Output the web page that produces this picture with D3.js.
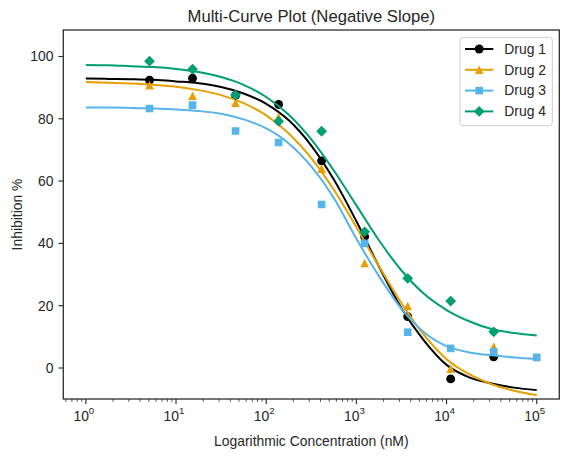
<!DOCTYPE html>
<html>
<head>
<meta charset="utf-8">
<script src="https://cdn.jsdelivr.net/npm/d3@7"></script>
<style>
  body { margin: 0; background: #fff; }
  svg { font-family: Arial, "Liberation Sans", sans-serif; }
</style>
</head>
<body>
<div id="chart"></div>
<script>
// Data
const drugs = ["Drug 1", "Drug 2", "Drug 3", "Drug 4"];
const colors = ["#000000", "#E69F00", "#56B4E9", "#009E73"];
const markers = ["circle", "triangle", "square", "diamond"];

// measured concentrations (nM), 3-fold dilutions
const conc = [5.08, 15.24, 45.7, 137.2, 411.5, 1234.6, 3703.7, 11111, 33333, 100000];

const points1 = [92.4, 93.0, 87.5, 84.6, 66.5, 42.2, 16.5, -3.5, 3.6];
const points2 = [90.8, 87.4, 85.2, 80.5, 64.0, 33.7, 19.9, -0.2, 6.8];
const points3 = [83.3, 84.4, 76.1, 72.4, 52.5, 40.0, 11.5, 6.3, 5.2, 3.4];
const points4 = [98.5, 95.9, 87.6, 79.2, 76.0, 43.7, 28.8, 21.5, 11.6];

// fitted curves, read at quarter decades
const curveConc = [1, 1.78, 3.16, 5.62, 10, 17.8, 31.6, 56.2, 100, 178, 316, 562,
  1000, 1778, 3162, 5623, 10000, 17783, 31623, 56234, 100000];
const curve1 = [92.9, 92.8, 92.7, 92.5, 92.0, 91.4, 90.2, 88.1, 84.8, 79.5, 71.4, 60.5,
  47.1, 32.6, 19.2, 8.8, 1.0, -3.0, -5.0, -6.3, -7.1];
const curve2 = [91.8, 91.6, 91.3, 90.9, 90.3, 89.2, 87.6, 85.0, 81.1, 75.3, 67.4, 57.2,
  45.2, 32.7, 20.8, 10.6, 2.8, -2.0, -5.2, -7.3, -8.7];
const curve3 = [83.6, 83.6, 83.5, 83.3, 83.0, 82.5, 81.6, 79.8, 76.9, 72.1, 64.7, 54.6,
  41.5, 29.5, 19.0, 11.5, 7.0, 5.0, 4.1, 3.4, 2.9];
const curve4 = [97.3, 97.2, 96.9, 96.6, 96.0, 95.0, 93.4, 90.9, 87.0, 81.3, 73.4, 63.4,
  52.2, 41.0, 31.3, 23.8, 18.6, 15.0, 12.5, 11.2, 10.4];

const yTicks = [0, 20, 40, 60, 80, 100];
const xTicks = [1, 10, 100, 1000, 10000, 100000];

const allPoints = [points1, points2, points3, points4];
const allCurves = [curve1, curve2, curve3, curve4];

const W = 568, H = 460;
const margin = {top: 30, right: 8.7, bottom: 61, left: 63.3};
const width = W - margin.left - margin.right;
const height = H - margin.top - margin.bottom;
const ink = "#262626";

const svg = d3.select("#chart").append("svg")
  .attr("width", W)
  .attr("height", H);

const x = d3.scaleLog()
  .domain([Math.pow(10, -0.25), Math.pow(10, 5.25)])
  .range([0, width]);
const y = d3.scaleLinear()
  .domain([-9.95, 108.5])
  .range([height, 0]);

const g = svg.append("g")
  .attr("transform", "translate(" + margin.left + "," + margin.top + ")");

// clip to the axes area
g.append("clipPath").attr("id", "clip")
  .append("rect").attr("width", width).attr("height", height);

// x axis: major ticks with 10^n labels, minor ticks between
const minor = [];
for (let e = -1; e <= 5; e++) {
  for (let m = 2; m <= 9; m++) {
    const v = m * Math.pow(10, e);
    if (v > x.domain()[0] && v < x.domain()[1]) minor.push(v);
  }
}
const xAxis = g.append("g").attr("transform", "translate(0," + height + ")");
xAxis.selectAll("line.minor").data(minor).enter().append("line")
  .attr("class", "minor")
  .attr("x1", d => x(d)).attr("x2", d => x(d))
  .attr("y1", 0).attr("y2", 2.8)
  .attr("stroke", ink).attr("stroke-width", 0.8);
xAxis.selectAll("line.major").data(xTicks).enter().append("line")
  .attr("class", "major")
  .attr("x1", d => x(d)).attr("x2", d => x(d))
  .attr("y1", 0).attr("y2", 4.9)
  .attr("stroke", ink).attr("stroke-width", 1.1);
const xLab = xAxis.selectAll("text").data(xTicks).enter().append("text")
  .attr("x", d => x(d) - 2)
  .attr("y", 22)
  .attr("text-anchor", "middle")
  .attr("fill", ink)
  .style("font-size", "13.9px");
xLab.append("tspan").text("10");
xLab.append("tspan")
  .attr("dy", -7)
  .style("font-size", "9.7px")
  .text(d => Math.round(Math.log10(d)));

// y axis
const yAxis = g.append("g");
yAxis.selectAll("line").data(yTicks).enter().append("line")
  .attr("x1", -4.9).attr("x2", 0)
  .attr("y1", d => y(d)).attr("y2", d => y(d))
  .attr("stroke", ink).attr("stroke-width", 1.1);
yAxis.selectAll("text").data(yTicks).enter().append("text")
  .attr("x", -9.8)
  .attr("y", d => y(d))
  .attr("dy", "0.35em")
  .attr("text-anchor", "end")
  .attr("fill", ink)
  .style("font-size", "13.9px")
  .text(d => d);

// curves and points
const line = d3.line()
  .x(d => x(d[0]))
  .y(d => y(d[1]))
  .curve(d3.curveMonotoneX);

const symbolTypes = {
  circle: d3.symbolCircle,
  triangle: d3.symbolTriangle,
  square: d3.symbolSquare,
  diamond: d3.symbolDiamond
};
const symbolSizes = {circle: 62, triangle: 52, square: 58, diamond: 50};

function markerPath(kind) {
  if (kind === "diamond") {
    const r = 5.4;
    return "M0," + (-r) + "L" + r + ",0L0," + r + "L" + (-r) + ",0Z";
  }
  if (kind === "triangle") {
    const r = 4.3;
    return "M0," + (-r) + "L" + r + "," + r + "L" + (-r) + "," + r + "Z";
  }
  return d3.symbol().type(symbolTypes[kind]).size(symbolSizes[kind])();
}

const plot = g.append("g").attr("clip-path", "url(#clip)");
drugs.forEach((name, i) => {
  const pts = allPoints[i].map((v, j) => [conc[j], v]);
  const crv = allCurves[i].map((v, j) => [curveConc[j], v]);

  plot.selectAll("path.pt-" + i).data(pts).enter().append("path")
    .attr("class", "pt-" + i)
    .attr("d", markerPath(markers[i]))
    .attr("transform", d => "translate(" + x(d[0]) + "," + y(d[1]) + ")")
    .attr("fill", colors[i]);

  plot.append("path")
    .datum(crv)
    .attr("d", line)
    .attr("fill", "none")
    .attr("stroke", colors[i])
    .attr("stroke-width", 2);
});

// frame
g.append("rect")
  .attr("width", width).attr("height", height)
  .attr("fill", "none")
  .attr("stroke", ink)
  .attr("stroke-width", 1.25);

// legend
const legend = g.append("g").attr("transform", "translate(" + (width - 99.3) + ",7.3)");
legend.append("rect")
  .attr("width", 92.3).attr("height", 88.4)
  .attr("rx", 3)
  .attr("fill", "#fff").attr("fill-opacity", 0.8)
  .attr("stroke", "#cccccc").attr("stroke-width", 1);
drugs.forEach((name, i) => {
  const row = legend.append("g").attr("transform", "translate(0," + (11.7 + i * 20.8) + ")");
  row.append("line")
    .attr("x1", 5).attr("x2", 33.3)
    .attr("stroke", colors[i]).attr("stroke-width", 2);
  row.append("path")
    .attr("d", markerPath(markers[i]))
    .attr("transform", "translate(19.2,0)")
    .attr("fill", colors[i]);
  row.append("text")
    .attr("x", 44.3).attr("dy", "0.35em")
    .attr("fill", ink)
    .style("font-size", "13.9px")
    .text(name);
});

// title and axis labels
svg.append("text")
  .attr("x", margin.left + width / 2).attr("y", 22)
  .attr("text-anchor", "middle")
  .attr("fill", ink)
  .style("font-size", "16.7px")
  .text("Multi-Curve Plot (Negative Slope)");
svg.append("text")
  .attr("x", margin.left + width / 2).attr("y", 446)
  .attr("text-anchor", "middle")
  .attr("fill", ink)
  .style("font-size", "13.9px")
  .text("Logarithmic Concentration (nM)");
svg.append("text")
  .attr("transform", "translate(22," + (margin.top + height / 2) + ") rotate(-90)")
  .attr("text-anchor", "middle")
  .attr("fill", ink)
  .style("font-size", "13.9px")
  .text("Inhibition %");
</script>
</body>
</html>
